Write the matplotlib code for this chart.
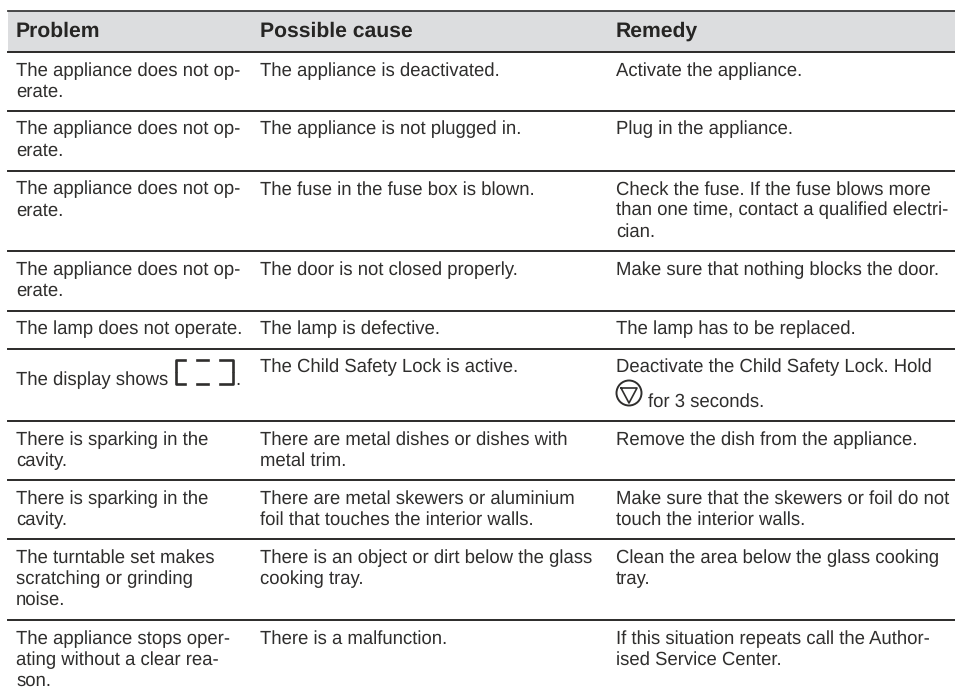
import matplotlib
matplotlib.use("Agg")
import matplotlib.pyplot as plt
from matplotlib.patches import Circle, Rectangle
from matplotlib.lines import Line2D

plt.rcParams['font.family'] = ['Liberation Sans', 'DejaVu Sans']
plt.rcParams['text.hinting'] = 'no_hinting'
plt.rcParams['text.hinting_factor'] = 8

W, H = 955, 694
TEXT = '#2f2e2d'

headers = ["Problem", "Possible cause", "Remedy"]
problems = [
    "The appliance does not op-\nerate.",
    "The appliance does not op-\nerate.",
    "The appliance does not op-\nerate.",
    "The appliance does not op-\nerate.",
    "The lamp does not operate.",
    "",
    "There is sparking in the\ncavity.",
    "There is sparking in the\ncavity.",
    "The turntable set makes\nscratching or grinding\nnoise.",
    "The appliance stops oper-\nating without a clear rea-\nson.",
]
causes = [
    "The appliance is deactivated.",
    "The appliance is not plugged in.",
    "The fuse in the fuse box is blown.",
    "The door is not closed properly.",
    "The lamp is defective.",
    "The Child Safety Lock is active.",
    "There are metal dishes or dishes with\nmetal trim.",
    "There are metal skewers or aluminium\nfoil that touches the interior walls.",
    "There is an object or dirt below the glass\ncooking tray.",
    "There is a malfunction.",
]
remedies = [
    "Activate the appliance.",
    "Plug in the appliance.",
    "Check the fuse. If the fuse blows more\nthan one time, contact a qualified electri-\ncian.",
    "Make sure that nothing blocks the door.",
    "The lamp has to be replaced.",
    "Deactivate the Child Safety Lock. Hold",
    "Remove the dish from the appliance.",
    "Make sure that the skewers or foil do not\ntouch the interior walls.",
    "Clean the area below the glass cooking\ntray.",
    "If this situation repeats call the Author-\nised Service Center.",
]
# pixel y of the rule above each row
rules = [52, 110.5, 170.5, 251, 310.5, 348.5, 421, 480, 539, 620]
col_x = [16, 260, 616]
BODY = 13.35
LINE_H = 21

fig = plt.figure(figsize=(W / 100, H / 100), dpi=100)
ax = fig.add_axes([0, 0, 1, 1])
ax.set_xlim(0, W)
ax.set_ylim(H, 0)
ax.axis('off')

ax.add_patch(Rectangle((8, 11), W - 8, 41, fc='#dcdddf', ec='none'))
ax.add_line(Line2D([8, W], [11, 11], color='#3a3a3a', lw=1.3))
for y in rules:
    ax.add_line(Line2D([8, W], [y, y], color='#2b2a29', lw=1.4))

for x, h in zip(col_x, headers):
    ax.text(x, 36.5, h, fontsize=15.25, fontweight='bold', color='#262524', va='baseline')

for i, y in enumerate(rules):
    for x, col in zip(col_x, [problems, causes, remedies]):
        for k, line in enumerate(col[i].split("\n")):
            if line:
                ax.text(x, y + 24 + k * LINE_H, line, fontsize=BODY, color=TEXT, va='baseline')

ax.text(16, 385, "The display shows", fontsize=BODY, color=TEXT, va='baseline')
ax.text(235.5, 385, ".", fontsize=BODY, color=TEXT, va='baseline')
# lock symbol
for xs, ys in [([185, 176, 176], [360, 360, 371]),
               ([176, 176, 185], [373, 384, 384]),
               ([197, 208], [360, 360]), ([197, 208], [384, 384]),
               ([220, 233, 233], [360, 360, 371]),
               ([233, 233, 220], [373, 384, 384])]:
    ax.add_line(Line2D(xs, ys, color=TEXT, lw=1.9))

# stop symbol
ax.add_patch(Circle((629, 393), 12.5, fc='none', ec=TEXT, lw=1.4))
ax.add_line(Line2D([621, 637, 629, 621], [388, 388, 403, 388], color=TEXT, lw=1.2))
ax.text(648, 406.5, "for 3 seconds.", fontsize=BODY, color=TEXT, va='baseline')

fig.savefig('out.png', dpi=100)
